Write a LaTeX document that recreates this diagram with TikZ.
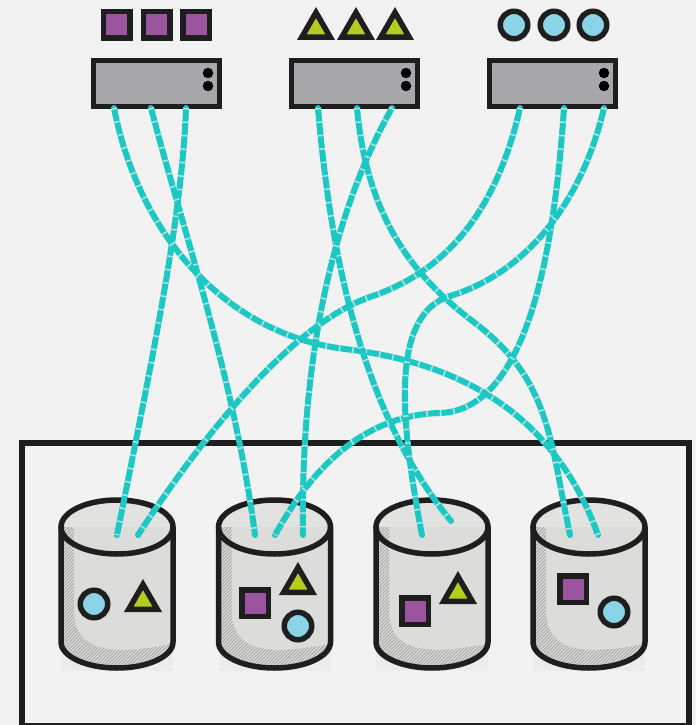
\documentclass[tikz,border=0pt]{standalone}
\usepackage{tikz}
\usetikzlibrary{positioning,shapes.geometric,patterns.meta}
\definecolor{paper}{HTML}{F2F2F2}
\definecolor{ink}{HTML}{1E1E1E}
\definecolor{fibre}{HTML}{1CC8C4}
\definecolor{fibredash}{HTML}{B5E2E0}
\definecolor{plum}{HTML}{9B559F}
\definecolor{sky}{HTML}{8BD3E6}
\definecolor{lime}{HTML}{B5CC1C}
\definecolor{steel}{HTML}{A8A8AB}
\definecolor{drumtop}{HTML}{E2E2E1}
\definecolor{drumside}{HTML}{DCDCDB}
\definecolor{drumback}{HTML}{ECECEC}
\tikzset{
  sq/.style    = {draw=ink, line width=5.5pt, fill=plum, minimum size=26.5pt, inner sep=0pt, outer sep=0pt},
  ci/.style    = {circle, draw=ink, line width=5.5pt, fill=sky, minimum size=27.5pt, inner sep=0pt, outer sep=0pt},
  tri/.style   = {regular polygon, regular polygon sides=3, draw=ink, line width=5.5pt, fill=lime, minimum size=33pt, inner sep=0pt, outer sep=0pt},
  swbox/.style = {draw=ink, line width=5.5pt, fill=steel, minimum width=126pt, minimum height=46pt, inner sep=0pt, outer sep=0pt},
  led/.style   = {circle, fill=black, minimum size=10.5pt, inner sep=0pt},
  frame/.style = {draw=ink, line width=5.5pt},
  hatch/.style = {pattern={Lines[angle=45,distance=2.4pt,line width=.9pt]}, pattern color=black!35},
  fiber/.style = {draw=fibre, line width=6pt, line cap=round,
                  postaction={draw=fibredash, line width=6pt, line cap=butt, dash pattern=on 1.5pt off 12pt}},
}
% #1 name, #2 centre x
\newcommand*{\swbox}[2]{%
  \node [swbox] (#1) at (#2,83.5) {};
  \path [hatch] (#2-62,68) .. controls (#2-45,90) and (#2-25,97) .. (#2+10,97) -- (#2+62,97) -- (#2+62,106) -- (#2-62,106) -- cycle;
  \draw [ink, line width=5.5pt] (#1.south west) rectangle (#1.north east);
  \node [led] (#1a) at (#2+51.5,73) {};
  \node [led] (#1b) at (#2+51.5,86) {};
}
% #1 name, #2 centre x
\newcommand*{\drum}[2]{%
  \fill [drumback] (#2-56,527) rectangle (#2+56,671);
  \fill [drumside] (#2-56,527) -- (#2-56,642) arc[start angle=180, end angle=360, x radius=56, y radius=-26] -- (#2+56,527) -- cycle;
  \fill [drumtop] (#2-56,527) arc[start angle=180, end angle=0, x radius=56, y radius=-26] -- cycle;
  \path [hatch] (#2-55,527) -- (#2-43,527) -- (#2-43,610) .. controls (#2-43,650) and (#2-10,656) .. (#2+50,645)
        -- (#2+56,642) arc[start angle=360, end angle=180, x radius=56, y radius=-26] -- cycle;
  \draw [frame] (#2-56,527) -- (#2-56,642) arc[start angle=180, end angle=360, x radius=56, y radius=-26] -- (#2+56,527);
  \node [ellipse, draw=ink, line width=5.5pt, minimum width=112pt, minimum height=54pt, inner sep=0pt, outer sep=0pt] (#1) at (#2,527) {};
}
\begin{document}
\begin{tikzpicture}[x=1pt,y=-1pt]
  \useasboundingbox (0,0) rectangle (696,725);
  \fill [paper] (0,0) rectangle (696,725);

  \swbox{swa}{156.5}
  \swbox{swb}{354.5}
  \swbox{swc}{552.5}

  % tenants over the switches
  \node [sq] (a1) at (116.7,25) {};
  \node [sq, right=13.3pt of a1] (a2) {};
  \node [sq, right=13.3pt of a2] (a3) {};
  \node [tri] (b1) at (316,29) {};
  \node [tri] (b2) at (356,29) {};
  \node [tri] (b3) at (395,29) {};
  \node [ci] (c1) at (514,25) {};
  \node [ci] (c2) at (554,25) {};
  \node [ci] (c3) at (593,25) {};

  \draw [frame] (22,443) rectangle (689,726);

  \drum{da}{117}
  \drum{db}{274.5}
  \drum{dc}{432}
  \drum{dd}{589}

  % ports
  \coordinate (pa1) at (114,108);
  \coordinate (pa2) at (151,108);
  \coordinate (pa3) at (186,108);
  \coordinate (pb1) at (318,108);
  \coordinate (pb2) at (357,108);
  \coordinate (pb3) at (392,108);
  \coordinate (pc1) at (520,108);
  \coordinate (pc2) at (564,108);
  \coordinate (pc3) at (604,108);
  \coordinate (qa1) at (117,535);
  \coordinate (qa2) at (138,535);
  \coordinate (qb1) at (255,535);
  \coordinate (qb2) at (275,535);
  \coordinate (qb3) at (303,535);
  \coordinate (qc1) at (422,535);
  \coordinate (qc2) at (451,521);
  \coordinate (qd1) at (570,535);
  \coordinate (qd2) at (598,535);

  \draw [fiber] (pa3) .. controls (182,220) and (150,370) .. (qa1);
  \draw [fiber] (pa2) .. controls (180,220) and (235,380) .. (qb1);
  \draw [fiber] (pa1) .. controls (140,240) and (230,335) .. (345,349) .. controls (480,365) and (560,430) .. (qd2);
  \draw [fiber] (pb1) .. controls (330,250) and (360,410) .. (qc2);
  \draw [fiber] (pb2) .. controls (368,230) and (425,285) .. (475,323) .. controls (550,380) and (550,440) .. (qd1);
  \draw [fiber] (pb3) .. controls (340,200) and (300,340) .. (qb3);
  \draw [fiber] (pc1) .. controls (490,240) and (420,280) .. (370,297) .. controls (290,325) and (200,440) .. (qa2);
  \draw [fiber] (pc2) .. controls (555,240) and (530,410) .. (440,413) .. controls (350,415) and (300,490) .. (qb2);
  \draw [fiber] (pc3) .. controls (580,210) and (520,275) .. (450,296) .. controls (390,315) and (400,420) .. (qc1);

  % tenants on the drums
  \node [ci]  (s1) at (94,604) {};
  \node [tri] (s2) at (143,601) {};
  \node [sq]  (s3) at (255,603) {};
  \node [tri] (s4) at (298,584) {};
  \node [ci]  (s5) at (298,626) {};
  \node [sq]  (s6) at (415,611) {};
  \node [tri] (s7) at (458,593) {};
  \node [sq]  (s8) at (573,589) {};
  \node [ci]  (s9) at (614,612) {};
\end{tikzpicture}
\end{document}
